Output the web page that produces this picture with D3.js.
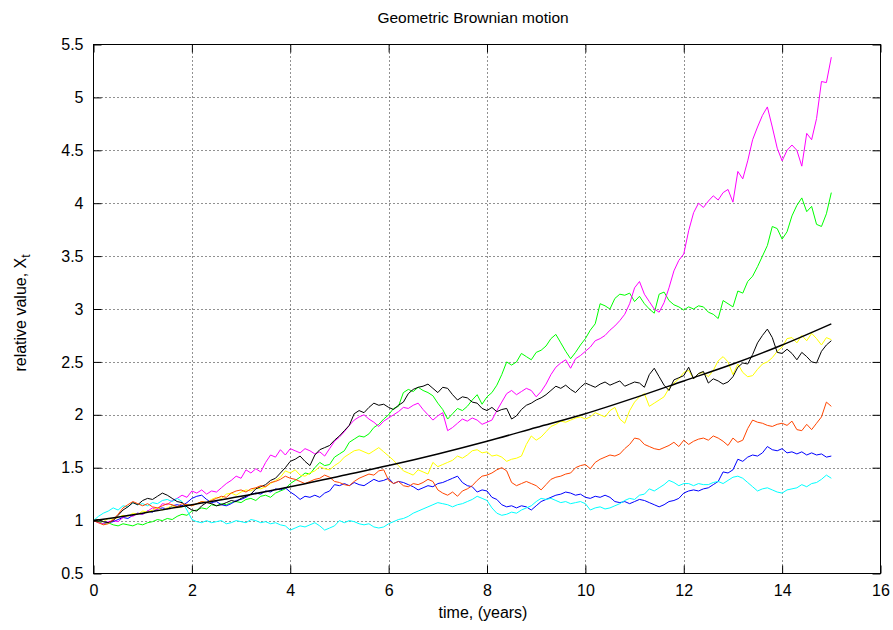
<!DOCTYPE html>
<html>
<head>
<meta charset="utf-8">
<script src="https://cdn.jsdelivr.net/npm/d3@7"></script>
<style>
  body { margin: 0; background: #fff; }
  svg { display: block; }
  text { font-family: "Liberation Sans", Arial, Helvetica, sans-serif; fill: #000; }
</style>
</head>
<body>
<svg id="chart" width="893" height="630"></svg>
<script>
// Sample spacing of every simulated path, in years (t = index * timeStep)
const timeStep = 0.1;

const pathGreen = [1.00,0.99,0.97,0.98,0.96,0.95,0.97,0.96,0.95,0.97,0.96,0.98,0.99,1.01,1.00,1.02,1.01,1.04,1.06,1.05,
  1.09,1.10,1.12,1.11,1.15,1.14,1.16,1.15,1.17,1.18,1.17,1.20,1.21,1.19,1.23,1.24,1.22,1.26,1.28,1.30,
  1.35,1.38,1.41,1.45,1.44,1.50,1.55,1.52,1.53,1.60,1.63,1.66,1.74,1.77,1.80,1.79,1.82,1.88,1.91,1.96,
  2.00,2.06,2.08,2.21,2.24,2.22,2.26,2.23,2.21,2.18,2.11,2.05,1.96,2.01,2.06,2.04,2.08,2.14,2.19,2.10,
  2.17,2.21,2.28,2.38,2.50,2.47,2.50,2.58,2.55,2.52,2.59,2.61,2.65,2.72,2.76,2.68,2.60,2.53,2.59,2.66,
  2.72,2.80,2.86,3.05,3.03,3.00,3.10,3.14,3.13,3.15,3.07,3.12,3.05,3.00,2.96,3.14,3.16,3.08,3.04,3.02,
  2.99,3.02,3.00,3.03,3.02,2.97,2.95,2.91,3.08,3.05,3.02,3.17,3.15,3.26,3.31,3.40,3.50,3.60,3.78,3.76,
  3.66,3.73,3.88,3.98,4.05,3.92,3.97,3.80,3.78,3.90,4.10];

const pathBlue = [1.00,1.01,0.99,0.98,0.99,1.01,1.03,1.02,1.05,1.07,1.06,1.09,1.08,1.11,1.12,1.11,1.14,1.15,1.14,1.17,
  1.21,1.23,1.24,1.20,1.17,1.18,1.15,1.14,1.16,1.19,1.20,1.22,1.25,1.26,1.25,1.28,1.27,1.30,1.29,1.31,
  1.27,1.24,1.20,1.23,1.22,1.24,1.22,1.26,1.28,1.34,1.33,1.35,1.33,1.36,1.34,1.33,1.36,1.39,1.37,1.38,
  1.40,1.35,1.37,1.36,1.34,1.32,1.29,1.31,1.33,1.32,1.35,1.36,1.38,1.40,1.42,1.36,1.33,1.32,1.27,1.29,
  1.28,1.22,1.20,1.15,1.13,1.14,1.12,1.14,1.13,1.10,1.14,1.18,1.20,1.22,1.24,1.25,1.27,1.26,1.24,1.25,
  1.22,1.21,1.23,1.22,1.24,1.22,1.18,1.17,1.18,1.16,1.18,1.20,1.19,1.17,1.15,1.13,1.15,1.18,1.19,1.21,
  1.26,1.28,1.29,1.28,1.30,1.31,1.34,1.37,1.46,1.45,1.48,1.58,1.56,1.60,1.62,1.61,1.64,1.70,1.67,1.66,
  1.68,1.64,1.65,1.63,1.65,1.62,1.64,1.62,1.63,1.60,1.61];

const pathMagenta = [1.00,0.98,0.97,0.99,1.00,0.99,1.03,1.05,1.04,1.07,1.06,1.09,1.12,1.10,1.16,1.15,1.19,1.21,1.24,1.22,
  1.28,1.26,1.29,1.25,1.28,1.27,1.31,1.35,1.38,1.42,1.40,1.48,1.45,1.49,1.46,1.55,1.62,1.60,1.67,1.62,
  1.68,1.66,1.64,1.68,1.66,1.63,1.65,1.61,1.68,1.75,1.79,1.84,1.90,1.95,1.98,2.00,1.96,1.93,1.89,1.94,
  1.97,2.00,2.03,2.07,2.06,2.09,2.11,2.05,2.00,1.95,1.99,2.02,1.85,1.88,1.92,1.96,1.94,1.97,1.95,1.91,
  1.93,1.95,2.04,2.12,2.20,2.23,2.19,2.22,2.25,2.23,2.17,2.22,2.29,2.38,2.45,2.49,2.52,2.44,2.53,2.56,
  2.60,2.64,2.70,2.72,2.75,2.80,2.84,2.89,2.95,3.05,3.20,3.26,3.14,3.07,3.00,2.97,3.06,3.20,3.36,3.46,
  3.52,3.74,3.91,4.00,3.96,4.02,4.07,4.03,4.10,4.13,4.01,4.30,4.23,4.40,4.60,4.72,4.83,4.91,4.72,4.52,
  4.40,4.50,4.55,4.50,4.35,4.66,4.60,4.80,5.15,5.14,5.38];

const pathCyan = [1.00,1.04,1.07,1.09,1.12,1.10,1.14,1.13,1.17,1.15,1.16,1.14,1.17,1.16,1.19,1.20,1.18,1.21,1.18,1.10,
  1.01,0.99,0.98,1.00,0.98,0.99,1.00,0.97,0.98,1.00,0.99,0.98,1.01,1.00,0.98,0.99,0.97,0.98,0.96,0.95,
  0.91,0.93,0.95,0.94,0.96,0.98,0.95,0.91,0.93,0.95,1.00,0.98,1.00,0.99,0.97,0.96,0.97,0.94,0.93,0.94,
  0.97,0.99,1.01,1.02,1.04,1.07,1.09,1.11,1.13,1.15,1.17,1.16,1.15,1.13,1.15,1.16,1.18,1.20,1.23,1.21,
  1.19,1.12,1.07,1.05,1.06,1.08,1.07,1.10,1.12,1.14,1.18,1.21,1.20,1.21,1.19,1.17,1.18,1.16,1.17,1.18,
  1.16,1.10,1.12,1.13,1.11,1.12,1.14,1.16,1.19,1.21,1.20,1.24,1.25,1.30,1.28,1.31,1.34,1.38,1.36,1.33,
  1.35,1.35,1.33,1.35,1.34,1.34,1.36,1.37,1.35,1.38,1.41,1.42,1.40,1.36,1.32,1.28,1.30,1.31,1.29,1.27,
  1.26,1.29,1.30,1.31,1.34,1.32,1.35,1.36,1.39,1.43,1.40];

const pathYellow = [1.00,1.01,0.99,1.02,1.01,1.03,1.05,1.04,1.07,1.06,1.09,1.08,1.10,1.12,1.10,1.12,1.14,1.12,1.13,1.15,
  1.14,1.16,1.18,1.17,1.20,1.22,1.21,1.25,1.26,1.24,1.27,1.29,1.28,1.31,1.30,1.32,1.35,1.38,1.41,1.47,
  1.45,1.48,1.43,1.42,1.45,1.47,1.51,1.49,1.48,1.52,1.55,1.60,1.63,1.66,1.67,1.65,1.63,1.66,1.69,1.65,
  1.61,1.57,1.52,1.47,1.45,1.43,1.48,1.46,1.44,1.55,1.51,1.53,1.55,1.57,1.61,1.59,1.62,1.66,1.67,1.64,
  1.65,1.61,1.62,1.60,1.56,1.58,1.59,1.61,1.72,1.80,1.76,1.79,1.84,1.89,1.91,1.94,1.93,1.95,1.97,1.98,
  1.96,1.98,2.02,2.00,1.98,2.04,2.07,1.96,1.92,2.04,2.12,2.17,2.20,2.08,2.11,2.14,2.17,2.25,2.30,2.34,
  2.40,2.42,2.34,2.39,2.40,2.36,2.42,2.51,2.55,2.50,2.38,2.48,2.40,2.36,2.37,2.43,2.48,2.50,2.54,2.60,
  2.64,2.72,2.73,2.68,2.75,2.70,2.77,2.72,2.66,2.73,2.71];

const pathBlack = [1.00,1.01,0.99,0.98,1.00,1.05,1.10,1.13,1.17,1.15,1.19,1.21,1.20,1.23,1.26,1.24,1.21,1.18,1.17,1.13,
  1.10,1.09,1.14,1.17,1.16,1.14,1.15,1.17,1.19,1.18,1.21,1.23,1.25,1.30,1.32,1.34,1.38,1.40,1.45,1.50,
  1.56,1.58,1.61,1.56,1.52,1.62,1.67,1.69,1.71,1.76,1.80,1.85,1.90,2.01,2.04,2.02,2.07,2.11,2.09,2.10,
  2.07,2.05,2.09,2.12,2.20,2.24,2.26,2.27,2.29,2.25,2.21,2.26,2.25,2.19,2.14,2.17,2.16,2.12,2.11,2.06,
  2.04,2.07,2.03,2.05,2.06,1.96,1.99,2.05,2.09,2.11,2.14,2.16,2.19,2.23,2.27,2.25,2.28,2.24,2.21,2.26,
  2.30,2.28,2.26,2.29,2.31,2.28,2.30,2.32,2.27,2.29,2.31,2.30,2.26,2.38,2.44,2.36,2.28,2.23,2.33,2.35,
  2.37,2.45,2.34,2.39,2.41,2.30,2.34,2.32,2.29,2.31,2.36,2.45,2.49,2.48,2.57,2.68,2.75,2.81,2.73,2.59,
  2.58,2.62,2.58,2.52,2.59,2.55,2.50,2.49,2.60,2.66,2.70];

const pathOrange = [1.00,0.98,0.96,0.97,1.01,1.06,1.12,1.15,1.18,1.16,1.14,1.16,1.13,1.12,1.14,1.16,1.15,1.13,1.16,1.15,
  1.14,1.16,1.18,1.17,1.19,1.21,1.23,1.22,1.26,1.28,1.29,1.27,1.30,1.31,1.33,1.32,1.36,1.37,1.39,1.42,
  1.40,1.39,1.37,1.35,1.37,1.39,1.40,1.43,1.41,1.37,1.36,1.34,1.33,1.37,1.40,1.42,1.44,1.43,1.47,1.48,
  1.38,1.35,1.37,1.33,1.32,1.35,1.34,1.36,1.39,1.37,1.29,1.26,1.24,1.27,1.23,1.28,1.30,1.33,1.38,1.42,
  1.43,1.45,1.48,1.50,1.47,1.36,1.33,1.35,1.37,1.35,1.33,1.29,1.34,1.39,1.41,1.42,1.44,1.45,1.50,1.52,
  1.53,1.49,1.55,1.58,1.60,1.62,1.61,1.63,1.68,1.72,1.78,1.77,1.72,1.70,1.68,1.67,1.69,1.71,1.74,1.70,
  1.76,1.72,1.75,1.77,1.78,1.76,1.80,1.78,1.75,1.71,1.78,1.74,1.76,1.87,1.95,1.93,1.92,1.90,1.89,1.91,
  1.92,1.90,1.94,1.86,1.85,1.91,1.86,1.92,1.98,2.12,2.08];

// Expected value of the process, read at whole years
const meanTimes  = [0,1,2,3,4,5,6,7,8,9,10,11,12,13,14,15];
const meanValues = [1.00,1.07,1.15,1.23,1.32,1.42,1.52,1.63,1.75,1.88,2.01,2.16,2.32,2.48,2.66,2.86];

const xTicks = [0,2,4,6,8,10,12,14,16];
const yTicks = [0.5,1,1.5,2,2.5,3,3.5,4,4.5,5,5.5];
const yTickLabels = ["0.5","1","1.5","2","2.5","3","3.5","4","4.5","5","5.5"];

const titleText = "Geometric Brownian motion";
const xLabelText = "time, (years)";

const paths = [
  { values: pathGreen,   color: "#00ff00" },
  { values: pathBlue,    color: "#0000ff" },
  { values: pathMagenta, color: "#ff00ff" },
  { values: pathCyan,    color: "#00ffff" },
  { values: pathYellow,  color: "#ffff00" },
  { values: pathBlack,   color: "#000000" },
  { values: pathOrange,  color: "#ff4500" }
];

const svg = d3.select("#chart");
const W = 893, H = 630;
const plot = { left: 93.5, right: 880.5, top: 44.5, bottom: 573.5 };

svg.append("rect").attr("width", W).attr("height", H).attr("fill", "#fff");

const x = d3.scaleLinear().domain([0, 16]).range([plot.left, plot.right]);
const y = d3.scaleLinear().domain([0.5, 5.5]).range([plot.bottom, plot.top]);

// dotted grid
const grid = svg.append("g").attr("stroke", "#222").attr("stroke-width", 1)
  .attr("stroke-dasharray", "1,3");
grid.selectAll("line.gx").data(xTicks.filter(d => d > 0 && d < 16)).join("line")
  .attr("class", "gx")
  .attr("x1", d => Math.round(x(d)) + 0.5).attr("x2", d => Math.round(x(d)) + 0.5)
  .attr("y1", plot.top).attr("y2", plot.bottom);
grid.selectAll("line.gy").data(yTicks.filter(d => d > 0.5 && d < 5.5)).join("line")
  .attr("class", "gy")
  .attr("y1", d => Math.round(y(d)) + 0.5).attr("y2", d => Math.round(y(d)) + 0.5)
  .attr("x1", plot.left).attr("x2", plot.right);

// simulated paths
const line = d3.line()
  .x((d, i) => x(i * timeStep))
  .y(d => y(d));

const pathLayer = svg.append("g").attr("fill", "none").attr("stroke-width", 1)
  .attr("stroke-linejoin", "round");
pathLayer.selectAll("path").data(paths).join("path")
  .attr("stroke", d => d.color)
  .attr("d", d => line(d.values));

// expected value curve
const meanLine = d3.line()
  .x(d => x(d[0]))
  .y(d => y(d[1]))
  .curve(d3.curveMonotoneX);
svg.append("path")
  .datum(meanTimes.map((t, i) => [t, meanValues[i]]))
  .attr("fill", "none").attr("stroke", "#000").attr("stroke-width", 1.5)
  .attr("d", meanLine);

// axes with inward ticks on all four sides
const tickLen = 8;
const fontSize = 16;

const axBottom = svg.append("g").attr("transform", `translate(0,${plot.bottom})`)
  .call(d3.axisBottom(x).tickValues(xTicks).tickSize(-tickLen).tickPadding(11).tickFormat(d3.format("d")));
const axLeft = svg.append("g").attr("transform", `translate(${plot.left},0)`)
  .call(d3.axisLeft(y).tickValues(yTicks).tickSize(-tickLen).tickPadding(10)
    .tickFormat((d, i) => yTickLabels[i]));
const axTop = svg.append("g").attr("transform", `translate(0,${plot.top})`)
  .call(d3.axisTop(x).tickValues(xTicks).tickSize(-tickLen).tickFormat(""));
const axRight = svg.append("g").attr("transform", `translate(${plot.right},0)`)
  .call(d3.axisRight(y).tickValues(yTicks).tickSize(-tickLen).tickFormat(""));

[axBottom, axLeft, axTop, axRight].forEach(g => {
  g.select(".domain").remove();
  g.selectAll(".tick line").attr("stroke", "#000").attr("stroke-width", 1);
  g.selectAll("text").attr("font-size", fontSize).attr("fill", "#000")
    .attr("font-family", '"Liberation Sans", Arial, sans-serif');
});

// border
svg.append("rect")
  .attr("x", plot.left).attr("y", plot.top)
  .attr("width", plot.right - plot.left).attr("height", plot.bottom - plot.top)
  .attr("fill", "none").attr("stroke", "#000").attr("stroke-width", 1);

// title and axis labels
svg.append("text").attr("x", 473).attr("y", 23)
  .attr("text-anchor", "middle").attr("font-size", 15.5).text(titleText);

svg.append("text").attr("x", 483).attr("y", 618)
  .attr("text-anchor", "middle").attr("font-size", fontSize).text(xLabelText);

const yLab = svg.append("text")
  .attr("transform", `translate(26,313) rotate(-90)`)
  .attr("text-anchor", "middle").attr("font-size", fontSize);
yLab.append("tspan").text("relative value, X");
yLab.append("tspan").attr("font-size", 12).attr("dy", 4).text("t");
</script>
</body>
</html>
